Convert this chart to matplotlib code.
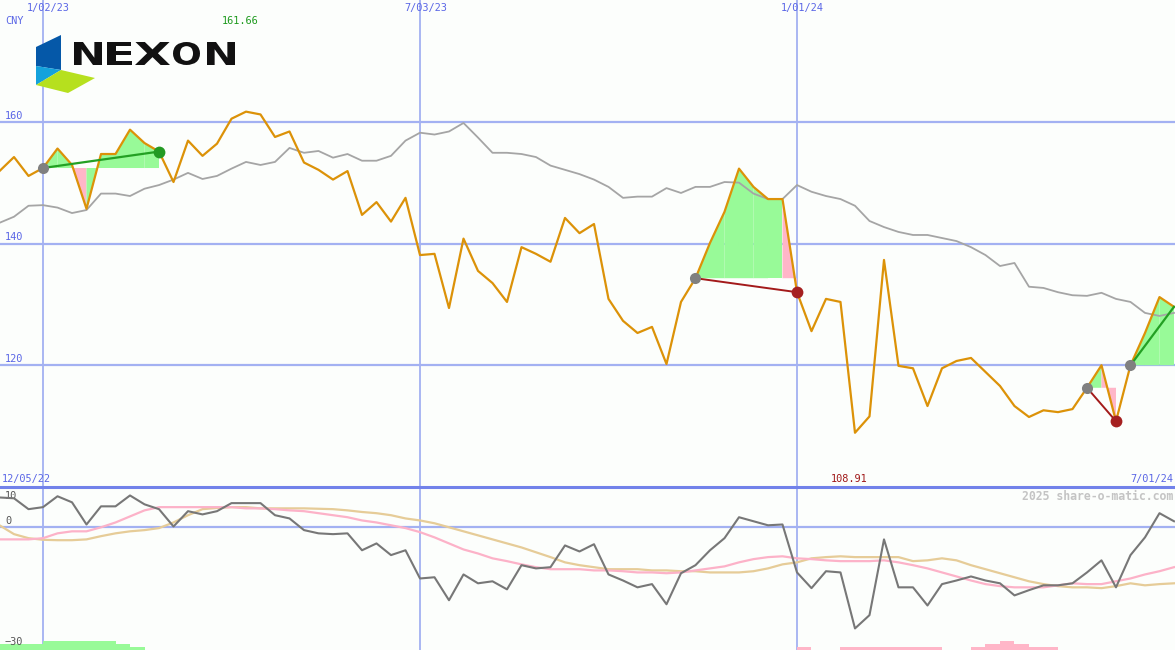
import matplotlib
matplotlib.use('Agg')
import matplotlib.pyplot as plt
from matplotlib.patches import Polygon, PathPatch
from matplotlib.textpath import TextPath
from matplotlib.font_manager import FontProperties
from matplotlib.transforms import Affine2D
import numpy as np

# ---------------- data (weekly, index 0 = week of 12/12/22) ----------------
price = [151.9, 154.2, 151.1, 152.4, 155.6, 152.9, 145.7, 154.7, 154.7, 158.7,
         156.5, 155.1, 150.1, 156.9, 154.4, 156.4, 160.5, 161.66, 161.2, 157.5,
         158.4, 153.3, 152.1, 150.5, 151.9, 144.7, 146.8, 143.6, 147.5, 138.1,
         138.3, 129.4, 140.8, 135.5, 133.5, 130.4, 139.4, 138.3, 137.0, 144.2,
         141.7, 143.2, 130.9, 127.3, 125.3, 126.3, 120.2, 130.4, 134.3, 140.1,
         145.2, 152.3, 149.3, 147.3, 147.3, 132.0, 125.6, 130.9, 130.4, 108.91,
         111.6, 137.3, 119.9, 119.5, 113.3, 119.5, 120.7, 121.2, 118.9, 116.6,
         113.3, 111.5, 112.6, 112.3, 112.8, 116.3, 120.0, 110.8, 120.0, 125.3,
         131.2, 129.6]

moving_avg = [143.4, 144.4, 146.2, 146.3, 145.9, 145.0, 145.5, 148.2, 148.2, 147.8,
              149.0, 149.6, 150.5, 151.6, 150.6, 151.1, 152.3, 153.4, 152.9, 153.4,
              155.7, 154.9, 155.2, 154.1, 154.7, 153.6, 153.6, 154.4, 156.9, 158.2,
              157.9, 158.4, 159.8, 157.4, 154.9, 154.9, 154.7, 154.2, 152.8, 152.1,
              151.4, 150.5, 149.3, 147.5, 147.7, 147.7, 149.1, 148.3, 149.3, 149.3,
              150.1, 150.0, 148.2, 147.3, 147.3, 149.6, 148.5, 147.8, 147.3, 146.2,
              143.7, 142.7, 141.9, 141.4, 141.4, 140.9, 140.4, 139.4, 138.1, 136.3,
              136.8, 132.9, 132.7, 132.0, 131.5, 131.4, 131.9, 130.9, 130.4, 128.6,
              128.1, 128.6]

momentum = [7.4, 7.2, 4.5, 5.0, 7.7, 6.2, 0.7, 5.2, 5.2, 7.9,
            5.7, 4.5, 0.2, 4.0, 3.2, 4.0, 6.0, 6.0, 6.0, 3.0,
            2.2, -0.7, -1.5, -1.7, -1.5, -5.7, -4.0, -6.9, -5.7, -12.7,
            -12.4, -18.1, -11.7, -13.9, -13.4, -15.4, -9.4, -10.2, -9.9, -4.5,
            -6.0, -4.2, -11.7, -13.2, -14.9, -14.1, -19.1, -11.4, -9.4, -5.7,
            -2.7, 2.5, 1.5, 0.5, 0.7, -11.2, -15.1, -10.9, -11.2, -25.1,
            -21.8, -3.0, -14.9, -14.9, -19.4, -14.1, -13.2, -12.2, -13.2, -13.9,
            -16.9, -15.6, -14.4, -14.4, -13.9, -11.2, -8.2, -14.9, -6.9, -2.5,
            3.5, 1.5]

signal_fast = [-3.0, -3.0, -3.0, -2.7, -1.5, -1.0, -1.0, 0.0, 1.2, 2.7,
               4.2, 5.0, 5.0, 5.0, 5.0, 5.0, 5.0, 4.7, 4.7, 4.5,
               4.2, 4.0, 3.5, 3.0, 2.5, 1.7, 1.2, 0.5, -0.2, -1.2,
               -2.5, -4.0, -5.5, -6.5, -7.7, -8.4, -9.2, -9.9, -10.4, -10.4,
               -10.4, -10.7, -10.7, -10.9, -11.2, -11.2, -11.4, -11.2, -10.7, -10.2,
               -9.7, -8.7, -7.9, -7.4, -7.2, -7.7, -7.9, -8.2, -8.4, -8.4,
               -8.4, -8.2, -8.7, -9.4, -10.2, -11.2, -12.2, -13.2, -14.1, -14.6,
               -14.9, -14.9, -14.9, -14.4, -13.9, -14.1, -14.1, -13.4, -12.7, -11.7,
               -10.9, -9.9]

signal_slow = [0.5, -1.7, -2.7, -3.1, -3.2, -3.2, -3.0, -2.2, -1.5, -1.0,
               -0.7, -0.2, 1.2, 3.0, 4.5, 4.8, 5.0, 5.0, 4.7, 4.7,
               4.7, 4.7, 4.6, 4.5, 4.2, 3.8, 3.5, 3.0, 2.2, 1.7,
               1.0, 0.0, -1.0, -2.0, -3.0, -4.0, -5.0, -6.2, -7.4, -8.7,
               -9.4, -9.9, -10.4, -10.4, -10.4, -10.7, -10.7, -10.9, -10.9, -11.2,
               -11.2, -11.2, -10.9, -10.2, -9.2, -8.7, -7.7, -7.4, -7.2, -7.4,
               -7.4, -7.4, -7.4, -8.4, -8.2, -7.7, -8.2, -9.4, -10.4, -11.4,
               -12.4, -13.4, -14.1, -14.6, -14.9, -14.9, -15.1, -14.6, -13.9, -14.4,
               -14.1, -13.9]

bar_levels = [2, 2, 2, 3, 3, 3, 3, 3, 2, 1] + [0] * 45 + [-1, 0, 0] + [-1] * 7 + \
             [0, 0, -1, -2, -3, -2, -1, -1] + [0] * 9

grid_prices = [160, 140, 120]
grid_labels = ['160', '140', '120']
date_idx = [3, 29, 55]
date_labels = ['1/02/23', '7/03/23', '1/01/24']
osc_ticks = [10, 0, -30]
osc_labels = ['10', '0', '\u221230']

event_start = [3, 48, 75, 78]
event_end = [11, 55, 77, 81]
event_up = [True, False, False, True]
event_closed = [True, True, True, False]

high_label = '161.66'
low_label = '108.91'

# ---------------- styling ----------------
W, H = 1175, 650
BG = '#fcfefc'
GRID = '#a3b1f2'
BORDER = '#7282ea'
TXT = '#5a66e6'
ORANGE = '#dc9208'
MAGRAY = '#a5a5a5'
FILL_G = '#98fa98'
FILL_P = '#ffb6c8'
MONO = 'DejaVu Sans Mono'

fig = plt.figure(figsize=(W / 100, H / 100), dpi=100, facecolor=BG)
top_h = 487
ax1 = fig.add_axes([0, 1 - top_h / H, 1, top_h / H])
ax2 = fig.add_axes([0, 0, 1, (H - top_h) / H])
for ax in (ax1, ax2):
    ax.set_facecolor(BG)
    ax.set_axis_off()
    ax.set_xlim(0.034, 81.07)
ax1.set_ylim(100, 180)
ax2.set_ylim(-30.45, 10)

x = np.arange(len(price))

# grid
for gp in grid_prices:
    ax1.axhline(gp, color=GRID, lw=1.6, zorder=1)
for di in date_idx:
    ax1.axvline(di, color=GRID, lw=1.3, zorder=1)
    ax2.axvline(di, color=GRID, lw=1.3, zorder=1)
ax2.axhline(0, color=GRID, lw=1.6, zorder=1)
ax2.axhline(10, color=BORDER, lw=2.2, zorder=6, clip_on=False)

# event fills
for s, e in zip(event_start, event_end):
    base = price[s]
    for k in range(s, e):
        col = FILL_G if price[k + 1] >= base else FILL_P
        poly = Polygon([(x[k], base), (x[k], price[k]), (x[k + 1], price[k + 1]),
                        (x[k + 1], base)], closed=True, facecolor=col,
                       edgecolor='none', zorder=2)
        ax1.add_patch(poly)

# lines
ax1.plot(x, moving_avg, color=MAGRAY, lw=1.3, zorder=3)
ax1.plot(x, price, color=ORANGE, lw=1.6, zorder=4)

# event connectors and markers
for s, e, up, closed in zip(event_start, event_end, event_up, event_closed):
    lc = '#23a023' if up else '#a31a1a'
    ax1.plot([x[s], x[e]], [price[s], price[e]], color=lc, lw=1.6 if up else 1.4, zorder=5)
    ax1.plot(x[s], price[s], 'o', ms=8, color='#808080', mec='none', zorder=6)
    if closed:
        mc = '#239a23' if up else '#a52020'
        ax1.plot(x[e], price[e], 'o', ms=8.5, color=mc, mec='none', zorder=6)

# oscillator panel
ax2.plot(x, signal_slow, color='#e6cc98', lw=1.6, zorder=3)
ax2.plot(x, signal_fast, color='#fcb2c8', lw=1.6, zorder=3)
ax2.plot(x, momentum, color='#777777', lw=1.5, zorder=4)
lv = np.array(bar_levels, dtype=float)
ax2.bar(x, np.abs(lv) * 0.75, width=1.0, align='edge', bottom=-30.45,
        color=[FILL_G if v > 0 else FILL_P for v in lv], edgecolor='none', zorder=2)

# ---------------- text ----------------
def ftxt(px, py, s, color=TXT, ha='left', size=7.4, weight='normal'):
    fig.text(px / W, 1 - py / H, s, color=color, ha=ha, va='center',
             family=MONO, fontsize=size, weight=weight)

for di, lbl in zip(date_idx, date_labels):
    ax1.annotate(lbl, xy=(di, 1), xycoords=('data', 'axes fraction'),
                 xytext=(-16, -8), textcoords='offset pixels', ha='left',
                 va='center', color=TXT, family=MONO, fontsize=7.4)
for gp, gl in zip(grid_prices, grid_labels):
    ax1.annotate(gl, xy=(0, gp), xycoords=('axes fraction', 'data'),
                 xytext=(5, 6), textcoords='offset pixels', ha='left',
                 va='center', color=TXT, family=MONO, fontsize=7.4)
ftxt(5, 21, 'CNY')
ftxt(222, 21, high_label, color='#1e9a1e')
ftxt(2, 479, '12/05/22')
ftxt(831, 479, low_label, color='#a01818')
ftxt(1173, 479, '7/01/24', ha='right')
ftxt(1173, 496, '2025 share-o-matic.com', color='#c4c4c4', ha='right', size=8.3, weight='bold')
osc_text_off = [-9, 6, 6]
for v, lbl, off in zip(osc_ticks, osc_labels, osc_text_off):
    ax2.annotate(lbl, xy=(0, v), xycoords=('axes fraction', 'data'),
                 xytext=(5, off), textcoords='offset pixels', ha='left',
                 va='center', color='#555555', family=MONO, fontsize=7.4)

# ---------------- logo ----------------
def fpoly(pts, color):
    p = Polygon([(a / W, 1 - b / H) for a, b in pts], closed=True,
                transform=fig.transFigure, facecolor=color, edgecolor='none', zorder=10)
    fig.add_artist(p)

fpoly([(36, 47), (61, 35), (61, 70), (36, 66)], '#0558a8')
fpoly([(36, 66), (61, 70), (36, 85)], '#14a2dc')
fpoly([(36, 85), (61, 70), (95, 78), (68, 93)], '#b6e01e')

logo_fp = FontProperties(family='DejaVu Sans', weight='bold')
letter_boxes = [(74, 102), (107, 132), (135, 170), (173, 200), (207, 235)]
ly0, ly1 = 42, 65
for ch, (x0, x1) in zip('NEXON', letter_boxes):
    tp = TextPath((0, 0), ch, size=100, prop=logo_fp)
    bb = tp.get_extents()
    sx = (x1 - x0) / bb.width
    sy = (ly1 - ly0) / bb.height
    tr = Affine2D().translate(-bb.x0, -bb.y0).scale(sx, sy).translate(x0, H - ly1)
    patch = PathPatch(tp, facecolor='#111111', edgecolor='none', lw=0,
                      transform=tr, zorder=10)
    fig.add_artist(patch)

fig.savefig('out.png', dpi=100, facecolor=BG)
